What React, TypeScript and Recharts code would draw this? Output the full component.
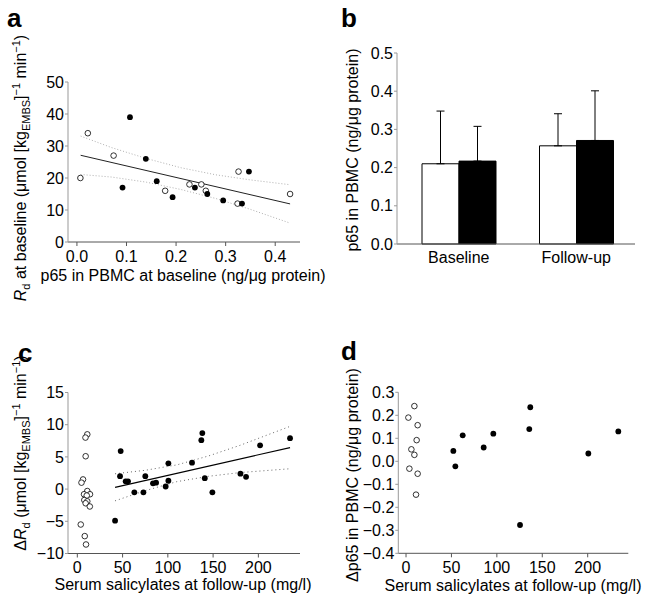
import React from 'react';
import { ScatterChart, Scatter, XAxis, YAxis, BarChart, Bar, ErrorBar } from 'recharts';

const W = 648;
const H = 602;
const FONT = '"Liberation Sans", Arial, Helvetica, sans-serif';

// ---------- Panel a ----------
const aOpenX = [0.007, 0.022, 0.074, 0.178, 0.227, 0.251, 0.26, 0.326, 0.324, 0.43];
const aOpenY = [20, 34, 27, 16, 18, 18, 16, 22, 12, 15];
const aFilledX = [0.092, 0.107, 0.139, 0.161, 0.193, 0.238, 0.263, 0.295, 0.333, 0.347];
const aFilledY = [17, 39, 26, 19, 14, 17, 15, 13, 12, 22];
const aFitX = [0.0075, 0.43];
const aFitY = [27.1, 11.9];
const aBandX = [0.0075, 0.07, 0.14, 0.21, 0.28, 0.35, 0.43];
const aUpperY = [33.1, 29.5, 26.1, 23.2, 21.0, 19.4, 17.9];
const aLowerY = [21.1, 20.3, 18.7, 16.4, 13.6, 10.2, 5.9];
const aXTicks = [0, 0.1, 0.2, 0.3, 0.4];
const aYTicks = [0, 10, 20, 30, 40, 50];

// ---------- Panel b ----------
const bCats = ['Baseline', 'Follow-up'];
const bOpen = [0.21, 0.257];
const bOpenErr = [0.138, 0.084];
const bFilled = [0.217, 0.271];
const bFilledErr = [0.091, 0.13];
const bYTicks = [0, 0.1, 0.2, 0.3, 0.4, 0.5];

// ---------- Panel c ----------
const cOpenX = [11, 9, 9.2, 6.3, 4.6, 11, 7.4, 14, 10.4, 7.7, 11, 9.2, 13.8, 3.8, 8.2, 9.6];
const cOpenY = [8.5, 8.0, 5.1, 1.5, 1.0, -0.3, -0.8, -0.8, -1.0, -1.7, -1.9, -2.2, -2.7, -5.5, -7.3, -8.6];
const cFilledX = [41.7, 47.2, 47.9, 53.4, 56, 63, 73, 75.1, 83.6, 87, 97.6, 100.6, 100.6, 126.7, 137, 138.1, 140.8, 149.2, 180.2, 186.4, 201.9, 235];
const cFilledY = [-4.9, 2.0, 5.9, 1.2, 1.2, -0.5, -0.5, 2.0, 0.9, 1.0, 0.4, 4.0, 1.3, 4.1, 7.6, 8.7, 1.7, -0.5, 2.4, 1.9, 6.8, 7.9];
const cFitX = [41.7, 235];
const cFitY = [0.28, 6.45];
const cBandX = [41.7, 75, 110, 145, 180, 235];
const cUpperY = [2.38, 2.92, 3.76, 5.15, 6.81, 9.74];
const cLowerY = [-1.82, -0.24, 1.16, 1.99, 2.57, 3.16];
const cXTicks = [0, 50, 100, 150, 200];
const cYTicks = [-10, -5, 0, 5, 10, 15];

// ---------- Panel d ----------
const dOpenX = [9.2, 2.6, 12.8, 11.7, 5.9, 9.2, 3.7, 12.8, 11];
const dOpenY = [0.24, 0.19, 0.157, 0.092, 0.052, 0.028, -0.032, -0.054, -0.145];
const dFilledX = [52.1, 54.3, 62.4, 85.5, 96.1, 125.5, 135.7, 136.8, 200.7, 233.7];
const dFilledY = [0.045, -0.022, 0.113, 0.06, 0.12, -0.277, 0.14, 0.235, 0.034, 0.13];
const dXTicks = [0, 50, 100, 150, 200];
const dYTicks = [-0.4, -0.3, -0.2, -0.1, 0, 0.1, 0.2, 0.3];

const zip = (xs: number[], ys: number[]) => xs.map((x, i) => ({ x, y: ys[i] }));

const tickStyle = { fill: '#000', fontSize: 16, fontFamily: FONT };
const fmt1 = (v: number) => v.toFixed(1).replace('-', '\u2212');
const fmt0 = (v: number) => String(v).replace('-', '\u2212');

const openDot = (p: any) => <circle cx={p.cx} cy={p.cy} r={2.8} fill="#fff" stroke="#000" strokeWidth={0.8} />;
const filledDot = (p: any) => <circle cx={p.cx} cy={p.cy} r={2.9} fill="#000" stroke="none" />;
const noDot = () => <g />;

const Letter = ({ x, y, t }: any) => (
  <text x={x} y={y} fontFamily={FONT} fontSize={26} fontWeight="bold" fill="#000">{t}</text>
);

const RdTitle = ({ x, y, delta }: any) => (
  <text transform={`translate(${x},${y}) rotate(-90)`} textAnchor="middle" fontFamily={FONT} fontSize={16} fill="#000">
    {delta ? <tspan>Δ</tspan> : null}
    <tspan fontStyle="italic">R</tspan>
    <tspan fontSize={11} dy={4}>d</tspan>
    <tspan dy={-4}>{delta ? ' (' : ' at baseline ('}μmol [kg</tspan>
    <tspan fontSize={11} dy={4}>EMBS</tspan>
    <tspan dy={-4}>]</tspan>
    <tspan fontSize={11} dy={-6}>−1</tspan>
    <tspan dy={6}> min</tspan>
    <tspan fontSize={11} dy={-6}>−1</tspan>
    <tspan dy={6}>)</tspan>
  </text>
);

const P65Title = ({ x, y, delta }: any) => (
  <text transform={`translate(${x},${y}) rotate(-90)`} textAnchor="middle" fontFamily={FONT} fontSize={16} fill="#000">
    {delta ? 'Δp65 in PBMC (ng/μg protein)' : 'p65 in PBMC (ng/μg protein)'}
  </text>
);

const XTitle = ({ x, y, t }: any) => (
  <text x={x} y={y} textAnchor="middle" fontFamily={FONT} fontSize={16} fill="#000">{t}</text>
);

const LabelsA = () => (
  <g>
    <Letter x={7} y={27} t="a" />
    <RdTitle x={26} y={168} />
    <XTitle x={183} y={281} t="p65 in PBMC at baseline (ng/μg protein)" />
  </g>
);
const LabelsB = () => (
  <g>
    <Letter x={341} y={27} t="b" />
    <P65Title x={358} y={150} />
  </g>
);
const LabelsC = () => (
  <g>
    <Letter x={18} y={362} t="c" />
    <RdTitle x={26} y={453} delta />
    <XTitle x={183} y={590} t="Serum salicylates at follow-up (mg/l)" />
  </g>
);
const LabelsD = () => (
  <g>
    <Letter x={341} y={360} t="d" />
    <P65Title x={358} y={475} delta />
    <XTitle x={513} y={591} t="Serum salicylates at follow-up (mg/l)" />
  </g>
);

const Layer = ({ children }: any) => (
  <div style={{ position: 'absolute', left: 0, top: 0, width: W, height: H }}>{children}</div>
);

const yAxisCommon = {
  type: 'number' as const,
  dataKey: 'y',
  width: 60,
  axisLine: { stroke: '#999' },
  tickLine: { stroke: '#999' },
  tickSize: 3,
  tickMargin: 1,
  tick: tickStyle,
  interval: 0 as const,
  allowDataOverflow: true,
};

const xAxisCommon = {
  type: 'number' as const,
  dataKey: 'x',
  height: 30,
  axisLine: { stroke: '#555' },
  tickLine: { stroke: '#555' },
  tickSize: 4,
  tickMargin: 5,
  tick: tickStyle,
  interval: 0 as const,
  allowDataOverflow: true,
};

const PanelA = () => (
  <ScatterChart width={W} height={H} margin={{ top: 82, right: 348, bottom: 330, left: 8 }}>
    <XAxis {...xAxisCommon} domain={[-0.018, 0.45]} ticks={aXTicks} tickFormatter={fmt1} label={<LabelsA />} />
    <YAxis {...yAxisCommon} domain={[0, 50]} ticks={aYTicks} tickFormatter={fmt0} />
    <Scatter data={zip(aBandX, aUpperY)} line={{ stroke: '#b0b0b0', strokeWidth: 1, strokeDasharray: '1 2' }} shape={noDot} isAnimationActive={false} />
    <Scatter data={zip(aBandX, aLowerY)} line={{ stroke: '#b0b0b0', strokeWidth: 1, strokeDasharray: '1 2' }} shape={noDot} isAnimationActive={false} />
    <Scatter data={zip(aFitX, aFitY)} line={{ stroke: '#222', strokeWidth: 1 }} shape={noDot} isAnimationActive={false} />
    <Scatter data={zip(aOpenX, aOpenY)} shape={openDot} isAnimationActive={false} />
    <Scatter data={zip(aFilledX, aFilledY)} shape={filledDot} isAnimationActive={false} />
  </ScatterChart>
);

const bData = bCats.map((c, i) => ({
  cat: c,
  open: bOpen[i],
  openErr: [0, bOpenErr[i]],
  filled: bFilled[i],
  filledErr: [0, bFilledErr[i]],
}));

const PanelB = () => (
  <BarChart width={W} height={H} data={bData} margin={{ top: 53, right: 13, bottom: 328, left: 337 }} barGap={0} barSize={37}>
    <XAxis dataKey="cat" padding={{ left: 3, right: 0 }} tickLine={false} tickSize={0} tickMargin={8} axisLine={{ stroke: '#555' }} tick={tickStyle} height={30} interval={0} label={<LabelsB />} />
    <YAxis type="number" domain={[0, 0.5]} ticks={bYTicks} tickFormatter={fmt1} width={60} axisLine={{ stroke: '#999' }} tickLine={{ stroke: '#999' }} tickSize={3} tickMargin={1} tick={tickStyle} interval={0} />
    <Bar dataKey="open" fill="#fff" stroke="#000" strokeWidth={1} isAnimationActive={false}>
      <ErrorBar dataKey="openErr" width={4} stroke="#000" strokeWidth={1} direction="y" isAnimationActive={false} />
    </Bar>
    <Bar dataKey="filled" fill="#000" stroke="#000" strokeWidth={1} isAnimationActive={false}>
      <ErrorBar dataKey="filledErr" width={4} stroke="#000" strokeWidth={1} direction="y" isAnimationActive={false} />
    </Bar>
  </BarChart>
);

const PanelC = () => (
  <ScatterChart width={W} height={H} margin={{ top: 392.5, right: 348, bottom: 18.5, left: 8 }}>
    <XAxis {...xAxisCommon} domain={[-10.3, 246]} ticks={cXTicks} tickFormatter={fmt0} tickMargin={4} label={<LabelsC />} />
    <YAxis {...yAxisCommon} domain={[-10, 15]} ticks={cYTicks} tickFormatter={fmt0} />
    <Scatter data={zip(cBandX, cUpperY)} line={{ stroke: '#666', strokeWidth: 1, strokeDasharray: '1 3' }} shape={noDot} isAnimationActive={false} />
    <Scatter data={zip(cBandX, cLowerY)} line={{ stroke: '#666', strokeWidth: 1, strokeDasharray: '1 3' }} shape={noDot} isAnimationActive={false} />
    <Scatter data={zip(cFitX, cFitY)} line={{ stroke: '#000', strokeWidth: 1.2 }} shape={noDot} isAnimationActive={false} />
    <Scatter data={zip(cOpenX, cOpenY)} shape={openDot} isAnimationActive={false} />
    <Scatter data={zip(cFilledX, cFilledY)} shape={filledDot} isAnimationActive={false} />
  </ScatterChart>
);

const PanelD = () => (
  <ScatterChart width={W} height={H} margin={{ top: 392.3, right: 19.7, bottom: 18.7, left: 338.3 }}>
    <XAxis {...xAxisCommon} domain={[-8.5, 244.7]} ticks={dXTicks} tickFormatter={fmt0} tickMargin={4.5} label={<LabelsD />} />
    <YAxis {...yAxisCommon} domain={[-0.4, 0.3]} ticks={dYTicks} tickFormatter={fmt1} />
    <Scatter data={zip(dOpenX, dOpenY)} shape={openDot} isAnimationActive={false} />
    <Scatter data={zip(dFilledX, dFilledY)} shape={filledDot} isAnimationActive={false} />
  </ScatterChart>
);

export default function App() {
  return (
    <div style={{ position: 'absolute', left: 0, top: 0, width: W, height: H, background: '#fff', fontFamily: FONT }}>
      <Layer><PanelA /></Layer>
      <Layer><PanelB /></Layer>
      <Layer><PanelC /></Layer>
      <Layer><PanelD /></Layer>
    </div>
  );
}
